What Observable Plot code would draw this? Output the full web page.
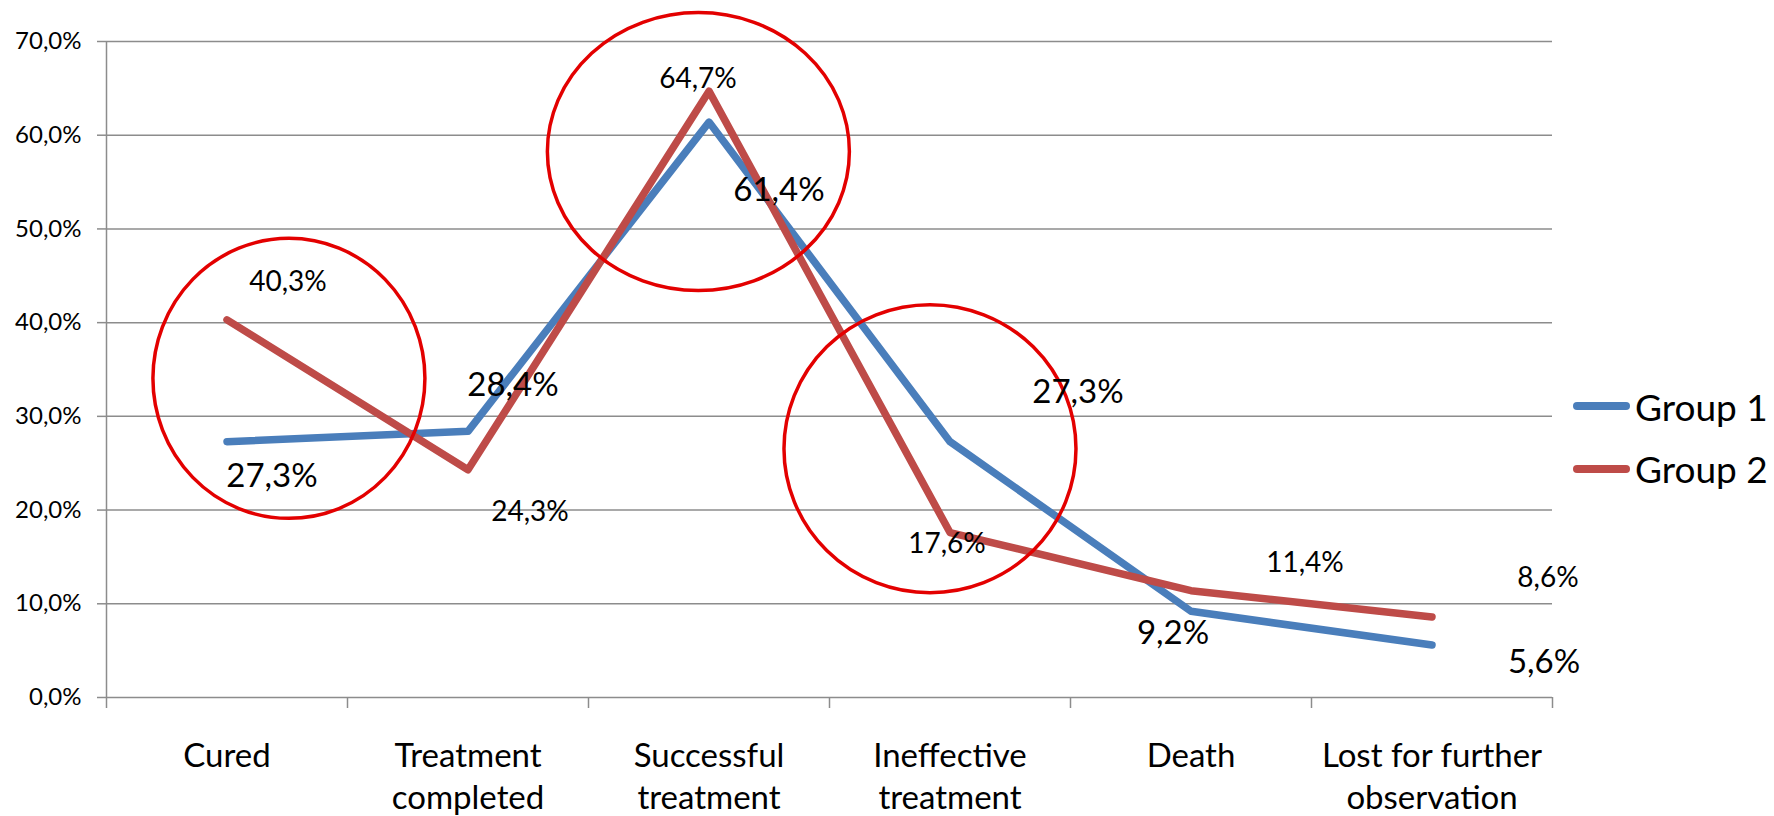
<!DOCTYPE html>
<html>
<head>
<meta charset="utf-8">
<script src="https://cdn.jsdelivr.net/npm/d3@7"></script>
<script src="https://cdn.jsdelivr.net/npm/@observablehq/plot@0.6"></script>
<style>
  html, body { margin: 0; padding: 0; background: #fff; }
  #wrap { position: relative; width: 1774px; height: 816px; font-family: Lato, "Open Sans", sans-serif; }
  #legend { position: absolute; left: 1573px; top: 375px; }
  .row { display: flex; align-items: center; height: 62.5px; font-size: 37px; color: #000; white-space: nowrap; }
  .swatch { width: 57px; height: 8px; border-radius: 4px; margin-right: 5px; }
</style>
</head>
<body>
<div id="wrap">
  <div id="chart"></div>
  <div id="legend"></div>
</div>
<script>
// Treatment outcomes for two patient groups (%)
const categories = ["Cured", "Treatment completed", "Successful treatment", "Ineffective treatment", "Death", "Lost for further observation"];
const categoryLabels = ["Cured", "Treatment\ncompleted", "Successful\ntreatment", "Ineffective\ntreatment", "Death", "Lost for further\nobservation"];
const seriesNames = ["Group 1", "Group 2"];
const group1 = [27.3, 28.4, 61.4, 27.3, 9.2, 5.6];
const group2 = [40.3, 24.3, 64.7, 17.6, 11.4, 8.6];
const yTicks = [0, 10, 20, 30, 40, 50, 60, 70];

const colors = {"Group 1": "#4a7ebb", "Group 2": "#be4b48"};
const gridColor = "#8c8c8c";
const ringColor = "#e30000";

// Placement of each value label relative to its point, in pixels
const labelLayout = {
  "Group 1": {fontSize: 33, offsets: [[45, 35], [45, -46], [70, 68], [128, -49], [-18, 22], [112, 17]]},
  "Group 2": {fontSize: 28, offsets: [[61, -38], [62, 42], [-11, -12], [-3, 11], [114, -28], [116, -39]]}
};

// Highlight rings: centre given on the chart's own scales, radii in pixels
const rings = [
  {x: 0.259, y: 34.0, rx: 136, ry: 140},
  {x: 1.958, y: 58.2, rx: 151, ry: 139},
  {x: 2.919, y: 26.5, rx: 146, ry: 144}
];

const rows = [];
seriesNames.forEach((name, s) => {
  const values = s === 0 ? group1 : group2;
  values.forEach((v, i) => rows.push({group: name, i, category: categories[i], value: v}));
});

const pct = v => d3.format(".1f")(v).replace(".", ",") + "%";
const boundaries = d3.range(categories.length + 1).map(k => k - 0.5);

const labelMarks = rows.map(r => {
  const lay = labelLayout[r.group];
  const [dx, dy] = lay.offsets[r.i];
  return Plot.text([r], {
    x: "i", y: "value", text: d => pct(d.value),
    dx, dy, fontSize: lay.fontSize, fill: "#000", lineAnchor: "middle", textAnchor: "middle"
  });
});

const ringMark = (index, scales) => {
  const g = d3.create("svg:g").attr("fill", "none").attr("stroke", ringColor).attr("stroke-width", 3.5);
  for (const c of rings) {
    g.append("ellipse")
      .attr("cx", scales.x(c.x)).attr("cy", scales.y(c.y))
      .attr("rx", c.rx).attr("ry", c.ry);
  }
  return g.node();
};

const chart = Plot.plot({
  width: 1774,
  height: 816,
  marginLeft: 106,
  marginRight: 222,
  marginTop: 41,
  marginBottom: 119,
  style: {fontFamily: "Lato, 'Open Sans', sans-serif", background: "#fff", color: "#000"},
  x: {type: "linear", domain: [-0.5, categories.length - 0.5]},
  y: {domain: [0, 70]},
  marks: [
    Plot.gridY(yTicks, {stroke: gridColor, strokeOpacity: 1, strokeWidth: 1.5}),
    Plot.axisY(yTicks, {tickSize: 9, tickPadding: 16, stroke: gridColor, strokeWidth: 1.5,
      tickFormat: pct, fontSize: 24, fill: "#000", label: null}),
    Plot.ruleX([-0.5], {y1: 0, y2: 70, stroke: gridColor, strokeWidth: 1.5}),
    Plot.axisX(boundaries, {tickSize: 11, stroke: gridColor, strokeWidth: 1.5, tickFormat: () => "", label: null}),
    Plot.axisX(d3.range(categories.length), {tickSize: 0, tickPadding: 38.6, tickFormat: i => categoryLabels[i],
      fontSize: 33, lineHeight: 1.3, fill: "#000", label: null}),
    Plot.line(rows, {x: "i", y: "value", z: "group", stroke: d => colors[d.group],
      strokeWidth: 7.5, strokeLinecap: "round", strokeLinejoin: "round"}),
    ringMark,
    ...labelMarks
  ]
});
document.getElementById("chart").appendChild(chart);

const legend = d3.select("#legend");
for (const name of seriesNames) {
  const row = legend.append("div").attr("class", "row");
  row.append("div").attr("class", "swatch").style("background", colors[name]);
  row.append("span").text(name);
}
</script>
</body>
</html>
